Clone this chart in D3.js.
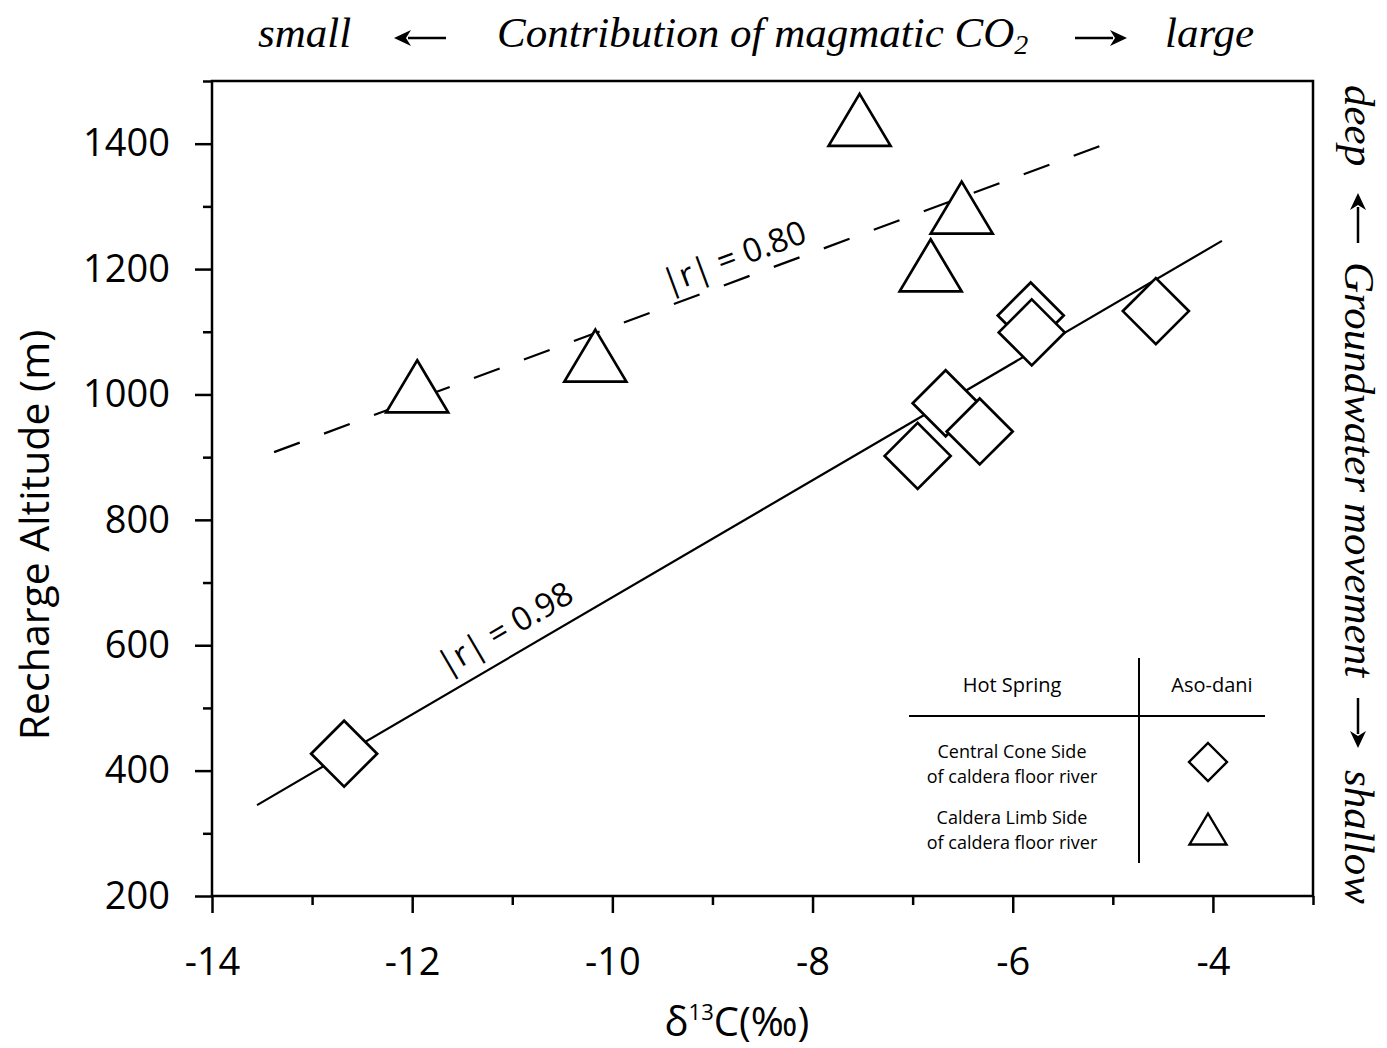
<!DOCTYPE html>
<html><head><meta charset="utf-8">
<script src="https://cdn.jsdelivr.net/npm/d3@7"></script>
<style>body{margin:0;background:#fff}</style>
</head><body>
<svg id="chart" width="1387" height="1048"></svg>
<script>
// ---- data ----
const xMajorTicks = [-14, -12, -10, -8, -6, -4];
const xMinorTicks = [-13, -11, -9, -7, -5, -3];
const yMajorTicks = [200, 400, 600, 800, 1000, 1200, 1400];
const yMinorTicks = [300, 500, 700, 900, 1100, 1300, 1500];

const centralConeD13C = [-12.68, -6.95, -6.67, -6.33, -5.82, -5.81, -4.57];
const centralConeAlt  = [427, 902, 986, 941, 1126, 1099, 1133];

const calderaLimbD13C = [-11.95, -10.17, -7.53, -6.82, -6.51];
const calderaLimbAlt  = [1013, 1062, 1438, 1206, 1298];

const solidFitD13C  = [-13.55, -3.91];
const solidFitAlt   = [345, 1245];
const dashedFitD13C = [-13.38, -5.10];
const dashedFitAlt  = [908, 1398];

const fitLabels   = ["|r| = 0.98", "|r| = 0.80"];
const fitLabelD13C = [-11.08, -8.79];
const fitLabelAlt  = [628, 1221];

const legendHeaders = ["Hot Spring", "Aso-dani"];
const legendRows = [["Central Cone Side", "of caldera floor river"],
                    ["Caldera Limb Side", "of caldera floor river"]];

// ---- setup ----
const svg = d3.select("#chart");
const x = d3.scaleLinear().domain([-14, -3]).range([212, 1313]);
const y = d3.scaleLinear().domain([200, 1500]).range([896, 81]);
const sans = "'Open Sans', 'DejaVu Sans', sans-serif";
const serif = "'Liberation Serif', 'DejaVu Serif', serif";

const diamond = r => `M0,${-r}L${r},0L0,${r}L${-r},0Z`;
const triangle = (w, h) => `M0,${-h/2}L${w/2},${h/2}L${-w/2},${h/2}Z`;

// ---- axes ----
function styleAxis(g) {
  g.select(".domain").remove();
  g.selectAll(".tick line").attr("stroke", "#000").attr("stroke-width", 2.5);
  g.selectAll(".tick text").attr("fill", "#000").style("font-family", sans).style("font-size", "38px");
}
svg.append("g").attr("transform", `translate(0,${y(200)})`)
  .call(d3.axisBottom(x).tickValues(xMinorTicks).tickSize(9).tickFormat(""))
  .call(styleAxis);
svg.append("g").attr("transform", `translate(0,${y(200)})`)
  .call(d3.axisBottom(x).tickValues(xMajorTicks).tickSize(17).tickPadding(35).tickFormat(d => String(d)))
  .call(styleAxis);
svg.append("g").attr("transform", `translate(${x(-14)},0)`)
  .call(d3.axisLeft(y).tickValues(yMinorTicks).tickSize(9).tickFormat(""))
  .call(styleAxis);
svg.append("g").attr("transform", `translate(${x(-14)},0)`)
  .call(d3.axisLeft(y).tickValues(yMajorTicks).tickSize(17).tickPadding(25).tickFormat(d => String(d)))
  .call(styleAxis);

// frame
svg.append("rect")
  .attr("x", x(-14)).attr("y", y(1500))
  .attr("width", x(-3) - x(-14)).attr("height", y(200) - y(1500))
  .attr("fill", "none").attr("stroke", "#000").attr("stroke-width", 2.5);

// axis titles
svg.append("text")
  .attr("transform", `translate(49,535) rotate(-90)`)
  .attr("text-anchor", "middle")
  .style("font-family", sans).style("font-size", "41px")
  .text("Recharge Altitude (m)");

const xl = svg.append("text")
  .attr("x", 737).attr("y", 1036).attr("text-anchor", "middle")
  .style("font-family", sans).style("font-size", "40px");
xl.append("tspan").text("δ");
xl.append("tspan").attr("dy", -16).style("font-size", "22px").text("13");
xl.append("tspan").attr("dy", 16).text("C(‰)");

// ---- fit lines ----
const line = d3.line().x(d => x(d[0])).y(d => y(d[1]));
svg.append("path")
  .attr("d", line(d3.zip(solidFitD13C, solidFitAlt)))
  .attr("fill", "none").attr("stroke", "#000").attr("stroke-width", 2.2);
svg.append("path")
  .attr("d", line(d3.zip(dashedFitD13C, dashedFitAlt)))
  .attr("fill", "none").attr("stroke", "#000").attr("stroke-width", 2.2)
  .attr("stroke-dasharray", "27.4 25.9");

const fitAngles = [
  Math.atan2(y(solidFitAlt[1]) - y(solidFitAlt[0]), x(solidFitD13C[1]) - x(solidFitD13C[0])) * 180 / Math.PI,
  Math.atan2(y(dashedFitAlt[1]) - y(dashedFitAlt[0]), x(dashedFitD13C[1]) - x(dashedFitD13C[0])) * 180 / Math.PI
];
fitLabels.forEach((t, i) => {
  svg.append("text")
    .attr("transform", `translate(${x(fitLabelD13C[i])},${y(fitLabelAlt[i])}) rotate(${fitAngles[i]})`)
    .attr("text-anchor", "middle").attr("dominant-baseline", "central")
    .style("font-family", sans).style("font-size", "33px")
    .text(t);
});

// ---- markers ----
svg.append("g").selectAll("path")
  .data(d3.zip(calderaLimbD13C, calderaLimbAlt)).join("path")
  .attr("transform", d => `translate(${x(d[0])},${y(d[1])})`)
  .attr("d", triangle(62, 52))
  .attr("fill", "#fff").attr("stroke", "#000").attr("stroke-width", 2.7);

svg.append("g").selectAll("path")
  .data(d3.zip(centralConeD13C, centralConeAlt)).join("path")
  .attr("transform", d => `translate(${x(d[0])},${y(d[1])})`)
  .attr("d", diamond(33))
  .attr("fill", "#fff").attr("stroke", "#000").attr("stroke-width", 2.7);

// ---- legend table ----
const lg = svg.append("g");
lg.append("line").attr("x1", 1139).attr("x2", 1139).attr("y1", 658).attr("y2", 863)
  .attr("stroke", "#000").attr("stroke-width", 2);
lg.append("line").attr("x1", 909).attr("x2", 1265).attr("y1", 716).attr("y2", 716)
  .attr("stroke", "#000").attr("stroke-width", 2);
lg.append("text").attr("x", 1012).attr("y", 692).attr("text-anchor", "middle")
  .style("font-family", sans).style("font-size", "20px").text(legendHeaders[0]);
lg.append("text").attr("x", 1212).attr("y", 692).attr("text-anchor", "middle")
  .style("font-family", sans).style("font-size", "20px").text(legendHeaders[1]);
const rowBase = [758, 824];
legendRows.forEach((r, i) => {
  const t = lg.append("text").attr("y", rowBase[i]).attr("text-anchor", "middle")
    .style("font-family", sans).style("font-size", "18px");
  r.forEach((s, j) => {
    t.append("tspan").attr("x", 1012).attr("dy", j === 0 ? 0 : 25).text(s);
  });
});
lg.append("path").attr("transform", "translate(1208,762)").attr("d", diamond(19))
  .attr("fill", "#fff").attr("stroke", "#000").attr("stroke-width", 2.4);
lg.append("path").attr("transform", "translate(1208,829)").attr("d", triangle(37, 31))
  .attr("fill", "#fff").attr("stroke", "#000").attr("stroke-width", 2.4);

// ---- top annotation ----
const topText = (xx, t) => svg.append("text").attr("x", xx).attr("y", 47)
  .style("font-family", serif).style("font-style", "italic").style("font-size", "43px").text(t);
topText(258, "small");
const ct = topText(497, "Contribution of magmatic CO");
ct.append("tspan").attr("dy", 7).style("font-size", "28px").text("2");
topText(1165, "large");

function arrow(x1, y1, x2, y2) {
  const ang = Math.atan2(y2 - y1, x2 - x1);
  const hl = 17, hw = 8;
  const bx = x2 - hl * Math.cos(ang), by = y2 - hl * Math.sin(ang);
  svg.append("line").attr("x1", x1).attr("y1", y1).attr("x2", bx + 3*Math.cos(ang)).attr("y2", by + 3*Math.sin(ang))
    .attr("stroke", "#000").attr("stroke-width", 2.5);
  const px = -Math.sin(ang) * hw, py = Math.cos(ang) * hw;
  svg.append("path")
    .attr("d", `M${x2},${y2}L${bx + px},${by + py}L${bx + 5*Math.cos(ang)},${by + 5*Math.sin(ang)}L${bx - px},${by - py}Z`)
    .attr("fill", "#000");
}
arrow(446, 38, 394, 38);
arrow(1075, 38, 1127, 38);

// ---- right annotation ----
const sideText = (yy, t) => svg.append("text")
  .attr("transform", `translate(1345,${yy}) rotate(90)`)
  .style("font-family", serif).style("font-style", "italic").style("font-size", "43px").text(t);
sideText(85, "deep");
sideText(262, "Groundwater movement");
sideText(770, "shallow");
arrow(1358, 243, 1358, 193);
arrow(1358, 698, 1358, 748);
</script>
</body></html>
